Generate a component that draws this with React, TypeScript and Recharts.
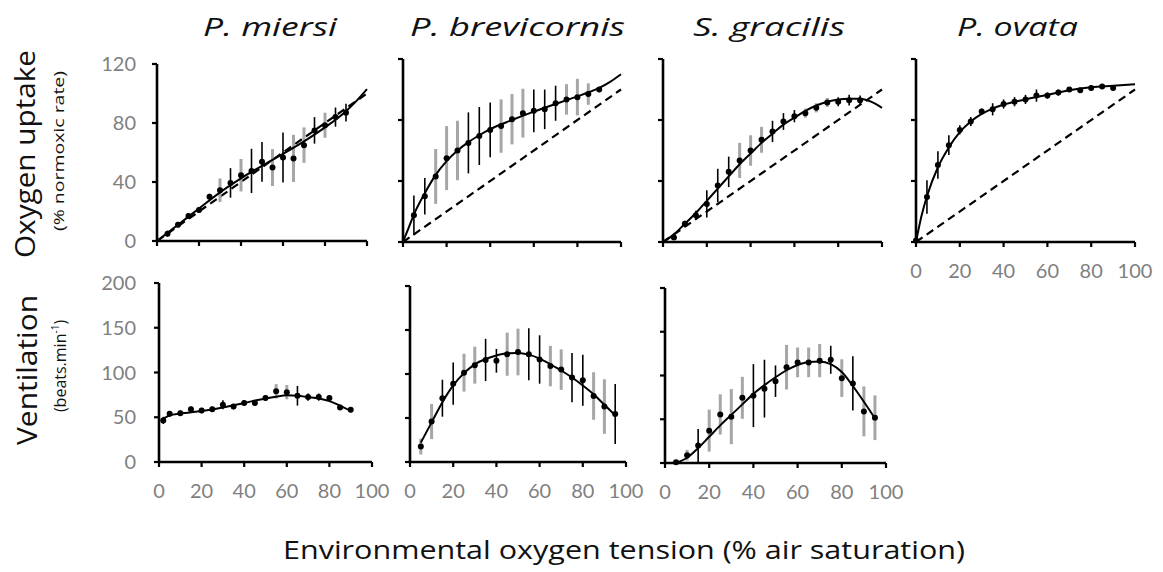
import React from 'react';
import { ComposedChart, Line, Scatter, XAxis, YAxis, ErrorBar, ReferenceLine } from 'recharts';

// ---- Oxygen tension (% air saturation) sampling points ----
const tension5to90 = [5, 10, 15, 20, 25, 30, 35, 40, 45, 50, 55, 60, 65, 70, 75, 80, 85, 90];
const tension0to90 = [0, 5, 10, 15, 20, 25, 30, 35, 40, 45, 50, 55, 60, 65, 70, 75, 80, 85, 90];
const tension2to90 = [2, 5, 10, 15, 20, 25, 30, 35, 40, 45, 50, 55, 60, 65, 70, 75, 80, 85, 90];
const tension5to95 = [5, 10, 15, 20, 25, 30, 35, 40, 45, 50, 55, 60, 65, 70, 75, 80, 85, 90, 95];

// ---- Oxygen uptake (% normoxic rate) ----
const miersiUptake = [5, 11, 17, 21, 30, 34.4, 39.4, 44.6, 47.5, 53.7, 49.8, 56.6, 56, 65, 75, 78.5, 84, 87];
const miersiUptakeErr = [2, 2, 2, 2, 2, 8, 10, 11, 15, 13.5, 12.5, 17, 16, 12, 9, 8.5, 6.5, 6];
const miersiUptakeSet = [0, 1, 0, 1, 0, 1, 0, 1, 0, 0, 1, 0, 1, 1, 0, 1, 0, 0];
const miersiUptakeFitX = [0, 10, 20, 30, 40, 50, 60, 70, 80, 90, 95, 100];
const miersiUptakeFitY = [0, 11, 22, 33, 42.5, 51, 59, 67.5, 77, 88, 95, 103];

const brevicornisUptake = [17.5, 30, 43, 55, 60, 65, 69.5, 73.5, 76, 80.5, 84.5, 86, 87, 91, 93.5, 95, 97, 100];
const brevicornisUptakeErr = [13, 12, 18, 21, 19.5, 20, 19, 18, 17.5, 16.5, 16, 14, 13, 11.5, 10, 12, 7, 1.5];
const brevicornisUptakeSet = [0, 0, 1, 1, 1, 0, 0, 0, 1, 1, 1, 0, 0, 0, 1, 1, 1, 0];
const brevicornisUptakeFitX = [0, 2.5, 5, 10, 15, 20, 25, 30, 35, 40, 50, 60, 70, 80, 85, 90, 95, 100];
const brevicornisUptakeFitY = [0, 9, 18, 32, 44, 53, 60, 65.5, 70, 74, 80, 85.5, 90.5, 95.5, 98, 101, 105, 110];

const gracilisUptake = [3, 12, 17.5, 25, 37, 46, 53.5, 60, 67, 72.5, 79, 82.5, 84.5, 88, 91.5, 92, 93, 93];
const gracilisUptakeErr = [1, 2, 3, 9, 11, 10, 11.5, 10, 8.5, 7, 5.5, 4, 3, 3, 3, 3, 3.5, 3];
const gracilisUptakeSet = [0, 0, 0, 0, 0, 0, 1, 1, 1, 0, 0, 0, 1, 1, 1, 0, 0, 0];
const gracilisUptakeFitX = [0, 5, 10, 15, 20, 25, 30, 35, 40, 45, 50, 55, 60, 65, 70, 75, 80, 85, 90, 95, 100];
const gracilisUptakeFitY = [0, 5, 12, 19, 27, 35, 43, 51, 58, 65, 71, 77, 81.5, 86, 89.5, 92, 93.5, 94, 94, 92, 88];

const ovataUptake = [1, 29.5, 50.5, 63.5, 73.5, 79, 85.5, 87, 90.5, 92, 93.5, 96, 96, 98, 100, 99.5, 101, 102, 101];
const ovataUptakeErr = [0.5, 11, 9, 6.5, 3, 3, 2, 4, 3, 3, 3, 4, 2, 2, 1.5, 1.5, 1, 1, 1];
const ovataUptakeSet = [0, 0, 0, 0, 0, 0, 0, 0, 0, 0, 0, 0, 0, 0, 0, 0, 0, 0, 0];
const ovataUptakeFitX = [0, 2.5, 5, 10, 15, 20, 25, 30, 35, 40, 50, 60, 70, 80, 90, 100];
const ovataUptakeFitY = [0, 17, 30, 49, 62, 72, 79, 84, 87.5, 90, 93.5, 96.5, 99.5, 101.5, 102.5, 103.5];

// ---- Ventilation (beats.min-1) ----
const miersiVent = [46.5, 54, 54.5, 59, 57.5, 59, 64, 62, 66, 66, 71.5, 79, 78, 74, 72.5, 72.5, 71.5, 61, 58.5];
const miersiVentErr = [4, 3, 3, 3, 3, 3, 5, 3, 3, 3, 3, 8, 8, 11, 4, 4, 3, 3, 3];
const miersiVentSet = [0, 0, 0, 0, 0, 0, 0, 0, 0, 0, 0, 1, 1, 0, 0, 0, 0, 0, 0];
const miersiVentFitX = [1, 5, 10, 20, 30, 40, 50, 55, 60, 65, 70, 75, 80, 85, 90];
const miersiVentFitY = [47, 52, 54, 57, 61, 66, 71, 73, 74.5, 74, 72.5, 71, 68, 63, 57];

const brevicornisVent = [17.5, 46, 72.5, 89, 101.5, 110, 116, 115, 122.5, 125, 122.5, 116.5, 109, 105, 96, 93, 75, 63, 54.5];
const brevicornisVentErr = [9, 20, 21, 24, 21.5, 21, 24, 13.5, 24.5, 26.5, 29.5, 27.5, 23, 23, 28, 29, 27, 31, 34];
const brevicornisVentSet = [1, 1, 0, 0, 1, 1, 0, 0, 1, 1, 0, 0, 1, 1, 0, 0, 1, 1, 0];
const brevicornisVentFitX = [5, 10, 15, 20, 25, 30, 35, 40, 45, 50, 55, 60, 65, 70, 75, 80, 85, 90, 95];
const brevicornisVentFitY = [22, 45, 68, 87, 101, 111, 117, 121, 123.5, 124, 122, 117.5, 111, 104, 96, 87, 77, 65, 53];

const gracilisVent = [1, 9, 20, 37, 55.5, 53, 74.5, 77, 85, 93.5, 109.5, 115, 115, 117, 118, 97, 91, 59, 51.7];
const gracilisVentErr = [1, 6, 19, 24, 23, 31.5, 24, 36, 33, 18, 25.5, 17, 17, 19, 16, 21.5, 31, 28.5, 25.5];
const gracilisVentSet = [0, 1, 0, 1, 1, 1, 1, 0, 0, 0, 1, 1, 1, 1, 0, 1, 0, 1, 1];
const gracilisVentFitX = [5, 10, 15, 20, 25, 30, 35, 40, 45, 50, 55, 60, 65, 70, 75, 80, 85, 90, 95];
const gracilisVentFitY = [0, 6, 17, 30, 43, 55, 67, 79, 89, 98, 106, 112, 115.5, 116, 113, 104, 88, 70, 51];

const tensionTicks = [0, 20, 40, 60, 80, 100];
const uptakeTicks = [0, 40, 80, 120];
const ventTicks = [0, 50, 100, 150, 200];

const speciesTitles = ['P. miersi', 'P. brevicornis', 'S. gracilis', 'P. ovata'];

const FONT = 'Lato, "Open Sans", sans-serif';
const CAPTION_FONT = '"Open Sans", Lato, sans-serif';
const BLACK_BAR = '#000000';
const GRAY_BAR = '#a6a6a6';
const TICK_GRAY = '#7f7f7f';

type PanelProps = {
  left: number;
  top: number;
  plotW: number;
  plotH: number;
  yMax: number;
  yTicks: number[];
  xLabels: boolean;
  yLabels: boolean;
  yTickMargin?: number;
  x: number[];
  mean: number[];
  err: number[];
  set: number[];
  fitX: number[];
  fitY: number[];
  unity?: boolean;
};

const Dot = (props: any) => {
  if (props.cx == null || props.cy == null) return null;
  return <circle cx={props.cx} cy={props.cy} r={3} fill="#000" />;
};

// Tick label renderers; an empty group keeps the tick mark but draws no number
const makeXTick = (show: boolean) => (props: any) => {
  if (!show) return <g />;
  return (
    <text x={props.x} y={props.y} dy="0.71em" textAnchor="middle" fill={TICK_GRAY} fontSize={20} fontFamily={FONT}>
      {props.payload.value}
    </text>
  );
};
const makeYTick = (show: boolean) => (props: any) => {
  if (!show) return <g />;
  return (
    <text x={props.x} y={props.y} dy="0.36em" textAnchor="end" fill={TICK_GRAY} fontSize={20} fontFamily={FONT}>
      {props.payload.value}
    </text>
  );
};

function Panel(p: PanelProps) {
  const ML = 70;
  const MT = 12;
  const MR = 30;
  const XH = 50;
  const points = p.x.map((v, i) => ({ x: v, y: p.mean[i], e: p.err[i], s: p.set[i] }));
  const darkPts = points.filter((d) => d.s === 0);
  const lightPts = points.filter((d) => d.s === 1);
  const fit = p.fitX.map((v, i) => ({ x: v, y: p.fitY[i] }));

  return (
    <div style={{ position: 'absolute', left: p.left - ML, top: p.top - MT }}>
      <ComposedChart
        width={ML + p.plotW + MR}
        height={MT + p.plotH + XH}
        margin={{ top: MT, right: MR, left: 0, bottom: 0 }}
      >
        <XAxis
          type="number"
          dataKey="x"
          domain={[0, 100]}
          ticks={tensionTicks}
          height={XH}
          axisLine={{ stroke: '#000', strokeWidth: 2.6 }}
          tickLine={{ stroke: '#000', strokeWidth: 2.2 }}
          tickSize={5}
          tickMargin={17}
          tick={makeXTick(p.xLabels)}
          interval={0}
        />
        <YAxis
          type="number"
          dataKey="y"
          domain={[0, p.yMax]}
          ticks={p.yTicks}
          width={ML}
          axisLine={{ stroke: '#000', strokeWidth: 2.6 }}
          tickLine={{ stroke: '#000', strokeWidth: 2.2 }}
          tickSize={5}
          tickMargin={p.yTickMargin ?? 16}
          tick={makeYTick(p.yLabels)}
          interval={0}
        />
        {p.unity && (
          <ReferenceLine
            segment={[{ x: 0, y: 0 }, { x: 100, y: 100 }]}
            stroke="#000"
            strokeWidth={2.2}
            strokeDasharray="8 5"
          />
        )}
        <Scatter data={lightPts} dataKey="y" shape={Dot} isAnimationActive={false}>
          <ErrorBar dataKey="e" direction="y" width={0} stroke={GRAY_BAR} strokeWidth={3} />
        </Scatter>
        <Scatter data={darkPts} dataKey="y" shape={Dot} isAnimationActive={false}>
          <ErrorBar dataKey="e" direction="y" width={0} stroke={BLACK_BAR} strokeWidth={1.6} />
        </Scatter>
        <Line
          data={fit}
          dataKey="y"
          type="monotone"
          stroke="#000"
          strokeWidth={2}
          dot={false}
          activeDot={false}
          isAnimationActive={false}
        />
      </ComposedChart>
    </div>
  );
}

export default function App() {
  return (
    <div
      style={{
        position: 'absolute',
        left: 0,
        top: 0,
        width: 1163,
        height: 572,
        background: '#fff',
        fontFamily: FONT,
        overflow: 'hidden',
      }}
    >
      {/* Oxygen uptake row */}
      <Panel left={157} top={64} plotW={210} plotH={177} yMax={120} yTicks={uptakeTicks}
        xLabels={false} yLabels={true} x={tension5to90} mean={miersiUptake} err={miersiUptakeErr}
        set={miersiUptakeSet} fitX={miersiUptakeFitX} fitY={miersiUptakeFitY} unity />
      <Panel left={403} top={59} plotW={218} plotH={183} yMax={120} yTicks={uptakeTicks}
        xLabels={false} yLabels={false} x={tension5to90} mean={brevicornisUptake} err={brevicornisUptakeErr}
        set={brevicornisUptakeSet} fitX={brevicornisUptakeFitX} fitY={brevicornisUptakeFitY} unity />
      <Panel left={663} top={59} plotW={219} plotH={183} yMax={120} yTicks={uptakeTicks}
        xLabels={false} yLabels={false} x={tension5to90} mean={gracilisUptake} err={gracilisUptakeErr}
        set={gracilisUptakeSet} fitX={gracilisUptakeFitX} fitY={gracilisUptakeFitY} unity />
      <Panel left={916} top={59} plotW={219} plotH={183} yMax={120} yTicks={uptakeTicks}
        xLabels={true} yLabels={false} x={tension0to90} mean={ovataUptake} err={ovataUptakeErr}
        set={ovataUptakeSet} fitX={ovataUptakeFitX} fitY={ovataUptakeFitY} unity />

      {/* Ventilation row */}
      <Panel left={159} top={283} plotW={213} plotH={179} yMax={200} yTicks={ventTicks}
        xLabels={true} yLabels={true} yTickMargin={18} x={tension2to90} mean={miersiVent} err={miersiVentErr}
        set={miersiVentSet} fitX={miersiVentFitX} fitY={miersiVentFitY} />
      <Panel left={410} top={286} plotW={216} plotH={176} yMax={200} yTicks={ventTicks}
        xLabels={true} yLabels={false} x={tension5to95} mean={brevicornisVent} err={brevicornisVentErr}
        set={brevicornisVentSet} fitX={brevicornisVentFitX} fitY={brevicornisVentFitY} />
      <Panel left={665} top={288} plotW={221} plotH={175} yMax={200} yTicks={ventTicks}
        xLabels={true} yLabels={false} x={tension5to95} mean={gracilisVent} err={gracilisVentErr}
        set={gracilisVentSet} fitX={gracilisVentFitX} fitY={gracilisVentFitY} />

      {/* Titles and axis captions */}
      <svg width={1163} height={572} style={{ position: 'absolute', left: 0, top: 0, pointerEvents: 'none' }}>
        <g fontFamily={CAPTION_FONT} fill="#111" fontStyle="italic" fontSize={26}>
          <text x={203} y={36} textLength={134} lengthAdjust="spacingAndGlyphs">{speciesTitles[0]}</text>
          <text x={410} y={36} textLength={215} lengthAdjust="spacingAndGlyphs">{speciesTitles[1]}</text>
          <text x={693} y={36} textLength={152} lengthAdjust="spacingAndGlyphs">{speciesTitles[2]}</text>
          <text x={957} y={36} textLength={121} lengthAdjust="spacingAndGlyphs">{speciesTitles[3]}</text>
        </g>
        <g fontFamily={CAPTION_FONT} fill="#111">
          <text transform="translate(35,154) rotate(-90)" textAnchor="middle" fontSize={27}
            textLength={208} lengthAdjust="spacingAndGlyphs">Oxygen uptake</text>
          <text transform="translate(64,151) rotate(-90)" textAnchor="middle" fontSize={15}
            textLength={160} lengthAdjust="spacingAndGlyphs">(% normoxic rate)</text>
          <text transform="translate(37,370) rotate(-90)" textAnchor="middle" fontSize={27}
            textLength={150} lengthAdjust="spacingAndGlyphs">Ventilation</text>
          <text transform="translate(66,366) rotate(-90)" textAnchor="middle" fontSize={16}>
            (beats.min<tspan fontSize={10} dy={-7}>-1</tspan><tspan dy={7}>)</tspan>
          </text>
          <text x={283} y={559} fontSize={26} textLength={682} lengthAdjust="spacingAndGlyphs">
            Environmental oxygen tension (% air saturation)
          </text>
        </g>
      </svg>
    </div>
  );
}
